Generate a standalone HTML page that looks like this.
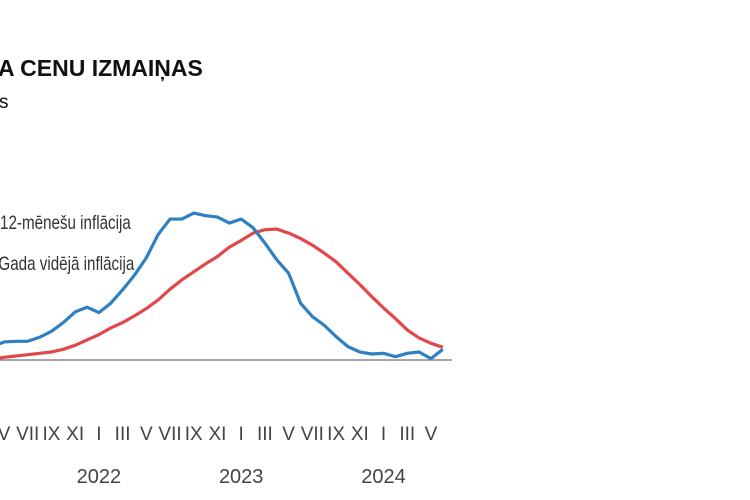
<!DOCTYPE html>
<html><head><meta charset="utf-8"><style>
body{margin:0;background:#fff;width:750px;height:500px;overflow:hidden;font-family:"Liberation Sans",sans-serif}
svg{position:absolute;left:0;top:0}
</style></head><body>
<svg width="750" height="500">
<text x="-2" y="76" font-size="23" font-weight="bold" fill="#111">A CENU IZMAIŅAS</text>
<text x="-1" y="108" font-size="19" fill="#111">s</text>
<line x1="0" y1="360" x2="452" y2="360" stroke="#888" stroke-width="1.5"/>
<g id="series"></g>
<g id="xlabels"></g>
<g font-size="19" fill="#333" font-family="'Liberation Sans Narrow','Liberation Sans',sans-serif">
<text x="0" y="229" transform="scale(0.8,1)">12-mēnešu inflācija</text>
<text x="-2" y="270" transform="scale(0.8,1)">Gada vidējā inflācija</text>
</g>
</svg>
<script>
const blueValues=[2.0,2.7,2.8,2.8,3.4,4.3,5.6,7.2,7.9,7.1,8.5,10.5,12.7,15.3,18.8,21.1,21.1,22.0,21.6,21.4,20.5,21.1,19.8,17.5,15.0,13.0,8.5,6.5,5.2,3.5,2.0,1.2,0.9,1.0,0.5,1.0,1.2,0.2,1.6];
const redValues=[0.1,0.4,0.6,0.8,1.0,1.2,1.6,2.2,3.0,3.8,4.8,5.6,6.6,7.7,9.0,10.6,12.0,13.2,14.4,15.5,16.9,17.9,19.0,19.5,19.6,19.0,18.2,17.2,16.0,14.7,13.0,11.3,9.5,7.8,6.2,4.5,3.3,2.5,1.9];
const monthLabels=["V","VII","IX","XI","I","III","V","VII","IX","XI","I","III","V","VII","IX","XI","I","III","V"];
const yearLabels=["2022","2023","2024"];
const NS="http://www.w3.org/2000/svg";
// month index 0 = April 2021
function xs(m){return 4+11.86*(m-1);}
function ys(v){return 360-v*6.68;}
const g=document.getElementById('series');
function line(vals,color,name){
  const p=document.createElementNS(NS,'polyline');
  p.setAttribute('points',vals.map((v,i)=>xs(i)+','+ys(v)).join(' '));
  p.setAttribute('fill','none');p.setAttribute('stroke',color);p.setAttribute('stroke-width','3.2');
  p.setAttribute('stroke-linejoin','round');
  
  
  g.appendChild(p);
}
line(redValues,'#e2474a','annual-average-line');
line(blueValues,'#2f80c3','12-month-line');
const xl=document.getElementById('xlabels');
monthLabels.forEach((l,i)=>{
  const t=document.createElementNS(NS,'text');
  t.setAttribute('x',xs(1+2*i));t.setAttribute('y',440);
  t.setAttribute('text-anchor','middle');t.setAttribute('font-size','19');t.setAttribute('fill','#444');
  t.setAttribute('font-family',"'Liberation Sans Narrow','Liberation Sans',sans-serif");
  t.textContent=l;
  
  
  xl.appendChild(t);
});
yearLabels.forEach((l,i)=>{
  const t=document.createElementNS(NS,'text');
  t.setAttribute('x',xs(9+12*i));t.setAttribute('y',483);
  t.setAttribute('text-anchor','middle');t.setAttribute('font-size','20');t.setAttribute('fill','#444');
  t.setAttribute('font-family',"'Liberation Sans Narrow','Liberation Sans',sans-serif");
  t.textContent=l;
  
  
  xl.appendChild(t);
});
</script>
</body></html>
